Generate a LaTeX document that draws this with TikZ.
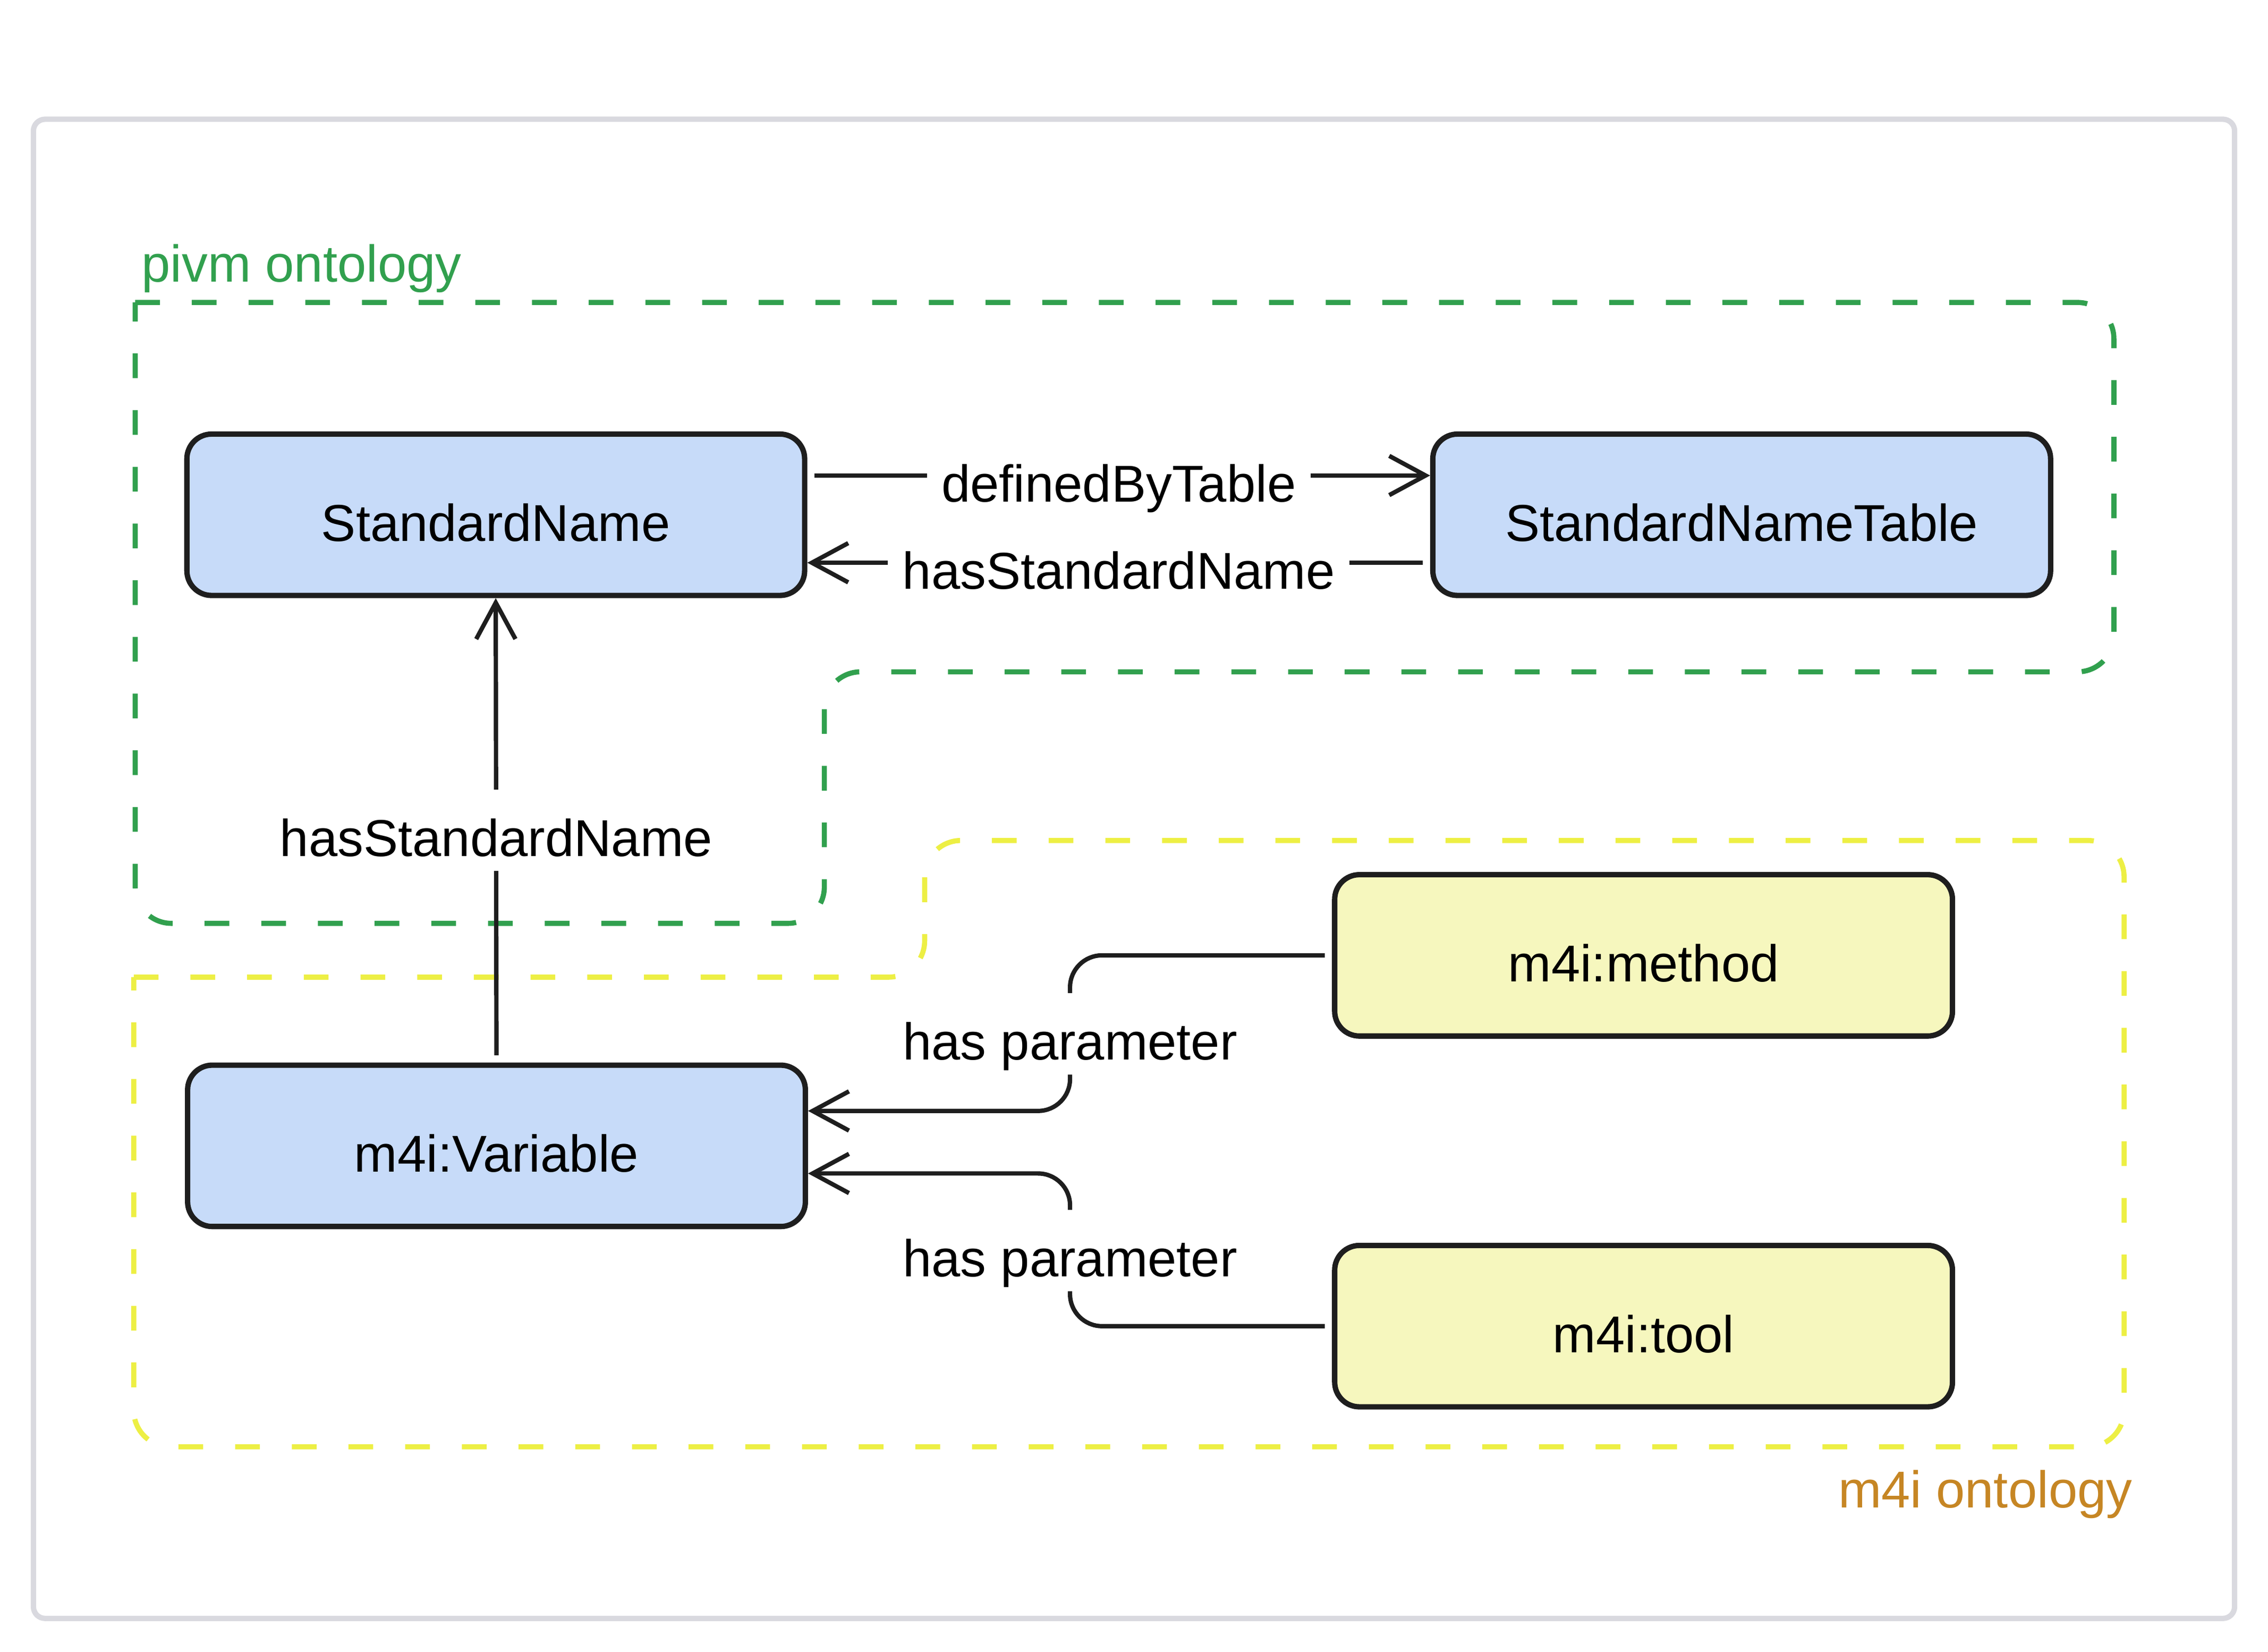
\documentclass[tikz,border=0pt]{standalone}
\usepackage{fontspec}
\setmainfont{Liberation Sans}
\usetikzlibrary{arrows.meta}

\definecolor{ink}{HTML}{1E1E1E}
\definecolor{nodeblue}{HTML}{C7DBF9}
\definecolor{nodeyellow}{HTML}{F6F7BE}
\definecolor{pivmgreen}{HTML}{31A04E}
\definecolor{m4iyellow}{HTML}{EDEF44}
\definecolor{m4iorange}{HTML}{C68624}
\definecolor{framegray}{HTML}{D9D9DF}

\begin{document}
\begin{tikzpicture}[x=0.02cm,y=-0.02cm,
    txt/.style={font=\fontsize{20.3pt}{24pt}\selectfont},
    cls/.style={txt,draw=ink,line width=2.1pt,rounded corners=0.34cm,
        minimum width=8.5cm,minimum height=2.22cm,text height=0.72cm,text depth=0pt},
    conn/.style={draw=ink,line width=1.7pt,-{Straight Barb[length=0.5cm,width=0.54cm]},
        shorten <=0.1cm},
    lbl/.style={txt,fill=white,inner sep=0.2cm,text height=0.72cm,text depth=0pt},
    grp/.style={line width=2pt,dash pattern=on 0.34cm off 0.44cm,rounded corners=0.5cm}]
\useasboundingbox (0,0) rectangle (1560,1135.8);
\draw[framegray,line width=2.1pt,rounded corners=0.16cm] (23,82) rectangle (1537,1113);
\draw[grp,pivmgreen] (93,208)--(1454,208)--(1454,462)--(567,462)
    --(567,635)--(93,635)--(93,208);
\draw[grp,m4iyellow] (92,672)--(636,672)--(636,578)--(1461,578)
    --(1461,995)--(92,995)--(92,672);
\node[txt,text=pivmgreen,anchor=base west,inner sep=0pt] (pivmlabel) at (97,194) {pivm ontology};
\node[txt,text=m4iorange,anchor=base east,inner sep=0pt] (m4ilabel) at (1467,1037) {m4i ontology};
\node[cls,fill=nodeblue] (stdname) at (341,354) {StandardName};
\node[cls,fill=nodeblue] (stdtable) at (1198,354) {StandardNameTable};
\node[cls,fill=nodeblue] (variable) at (341.5,788) {m4i:Variable};
\node[cls,fill=nodeyellow] (method) at (1130.5,657) {m4i:method};
\node[cls,fill=nodeyellow] (tool) at (1130.5,912) {m4i:tool};
\coordinate (parm1) at (736,711);
\coordinate (parm2) at (736,860);
\draw[conn] ([yshift=0.54cm]stdname.east) -- node[lbl] {definedByTable} ([yshift=0.54cm]stdtable.west);
\draw[conn] ([yshift=-0.66cm]stdtable.west) -- node[lbl] {hasStandardName} ([yshift=-0.66cm]stdname.east);
\draw[conn] (variable.north) -- node[lbl] {hasStandardName} (stdname.south);
\draw[conn,rounded corners=0.44cm] (method.west) -| (parm1) node[lbl] {has parameter}
    |- ([yshift=0.48cm]variable.east);
\draw[conn,rounded corners=0.44cm] (tool.west) -| (parm2) node[lbl] {has parameter}
    |- ([yshift=-0.38cm]variable.east);
\end{tikzpicture}
\end{document}
